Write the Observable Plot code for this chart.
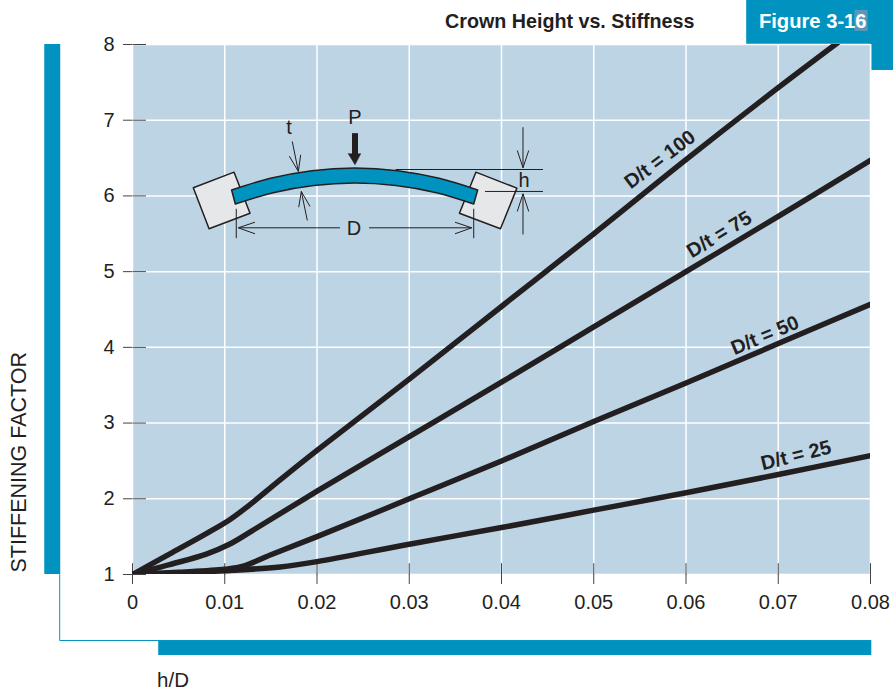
<!DOCTYPE html>
<html><head><meta charset="utf-8">
<script src="https://cdn.jsdelivr.net/npm/d3@7"></script>
<script src="https://cdn.jsdelivr.net/npm/@observablehq/plot@0.6"></script>
<style>html,body{margin:0;padding:0;background:#fff}svg{display:block}</style>
</head><body><div id="chart"></div>
<script>
// Curves: h/D against stiffening factor
const x100 = [0, 0.004, 0.008, 0.0105, 0.0125, 0.016, 0.02, 0.03, 0.04, 0.05, 0.06, 0.07, 0.0775];
const y100 = [1, 1.27, 1.54, 1.72, 1.9, 2.25, 2.64, 3.58, 4.54, 5.5, 6.48, 7.43, 8.12];
const x75 = [0, 0.004, 0.008, 0.0105, 0.013, 0.02, 0.03, 0.04, 0.05, 0.06, 0.07, 0.08];
const y75 = [1, 1.13, 1.27, 1.4, 1.58, 2.1, 2.82, 3.54, 4.27, 5, 5.73, 6.47];
const x50 = [0, 0.005, 0.01, 0.012, 0.015, 0.02, 0.03, 0.04, 0.05, 0.06, 0.07, 0.08];
const y50 = [1, 1.03, 1.07, 1.11, 1.26, 1.5, 2, 2.5, 3.02, 3.53, 4.05, 4.57];
const x25 = [0, 0.01, 0.016, 0.02, 0.03, 0.04, 0.05, 0.06, 0.07, 0.08];
const y25 = [1, 1.05, 1.1, 1.17, 1.4, 1.62, 1.85, 2.08, 2.32, 2.57];

const xTicks = [0, 0.01, 0.02, 0.03, 0.04, 0.05, 0.06, 0.07, 0.08];
const yTicks = [1, 2, 3, 4, 5, 6, 7, 8];

const curveLabels = ["D/t = 100", "D/t = 75", "D/t = 50", "D/t = 25"];
const curveLabelX = [0.05718, 0.0636, 0.06856, 0.07192];
const curveLabelY = [6.481, 5.491, 4.157, 2.572];
const curveLabelAngle = [-37, -31, -23, -14];

// Inset diagram, in the chart's own data units
const beamTopX = [0.0108, 0.015, 0.0195, 0.02412, 0.0288, 0.0333, 0.03747];
const beamTopY = [6.072, 6.226, 6.327, 6.363, 6.327, 6.226, 6.072];
const beamBotX = [0.0112, 0.0153, 0.0197, 0.02412, 0.0286, 0.033, 0.03704];
const beamBotY = [5.887, 6.036, 6.131, 6.164, 6.131, 6.036, 5.887];
const blockLX = [0.00659, 0.01101, 0.01274, 0.0083, 0.00659];
const blockRX = [0.03722, 0.04167, 0.03989, 0.03544, 0.03722];
const blockLY = [6.108, 6.314, 5.772, 5.566, 6.108];
const blockRY = [6.314, 6.103, 5.566, 5.772, 6.314];
const segX1 = [0.02853,0.03821,0.01125,0.03699,0.01147,0.02564,0.04233,0.04295,0.04171,0.04233,0.04295,0.04171,0.01732,0.017,0.01823,0.01895,0.01802,0.01924,0.01328,0.01328,0.03496,0.03496];
const segY1 = [6.349,6.059,5.83,5.83,5.579,5.579,6.908,6.6,6.6,5.491,5.795,5.795,6.719,6.525,6.543,5.676,5.851,5.861,5.653,5.5,5.653,5.5];
const segX2 = [0.0445,0.0445,0.01125,0.03699,0.02249,0.03677,0.04233,0.04233,0.04233,0.04233,0.04233,0.04233,0.01798,0.01798,0.01798,0.0183,0.0183,0.0183,0.01147,0.01147,0.03677,0.03677];
const segY2 = [6.349,6.059,5.442,5.442,5.579,5.579,6.372,6.372,6.372,6.028,6.028,6.028,6.323,6.323,6.323,6.059,6.059,6.059,5.579,5.579,5.579,5.579];
const loadX = [0.02339, 0.02474, 0.02412, 0.02339];
const loadY = [6.557, 6.557, 6.411, 6.557];
const diagramLabels = ["t", "P", "h", "D"];
const diagramLabelX = [0.01697, 0.02412, 0.04244, 0.02401];
const diagramLabelY = [6.904, 7.036, 6.204, 5.57];

// Page furniture, in data units
const bandX1 = [-0.00951, 0.00284, 0.06658, 0.08014];
const bandX2 = [-0.00778, 0.08014, 0.0826, 0.0826];
const bandY1 = [1, -0.07, 8, 7.657];
const bandY2 = [8, 0.128, 8.582, 8];
const ruleX = [-0.00789, -0.00789, 0.00284];
const ruleY = [1, 0.128, 0.128];

const INK = "#231f20", TEAL = "#0093bf", FONT = "Liberation Sans, Arial, sans-serif";
const table = (xs, ys) => xs.map((x, i) => ({x, y: ys[i]}));
const curveMark = (xs, ys) => Plot.line(table(xs, ys), {x: "x", y: "y", stroke: INK, strokeWidth: 5.5, curve: "catmull-rom", clip: true});

const plot = Plot.plot({
  width: 893, height: 690,
  marginLeft: 132, marginRight: 23, marginTop: 44, marginBottom: 116,
  style: {fontFamily: FONT, background: "#fff", overflow: "visible"},
  x: {domain: [0, 0.08]},
  y: {domain: [1, 8]},
  marks: [
    Plot.rect(bandX1.map((d, i) => i), {x1: i => bandX1[i], x2: i => bandX2[i], y1: i => bandY1[i], y2: i => bandY2[i], fill: TEAL}),
    Plot.line(table(ruleX, ruleY), {x: "x", y: "y", stroke: TEAL, strokeWidth: 1}),
    Plot.frame({fill: "#bdd4e5", stroke: "none"}),
    Plot.ruleX(xTicks, {stroke: "#fff", strokeWidth: 1.5}),
    Plot.ruleY(yTicks, {stroke: "#fff", strokeWidth: 1.5}),
    Plot.axisX({ticks: xTicks, tickFormat: d => String(d), tickSize: 10, tickPadding: 10, fontSize: 20, stroke: "#444", fill: INK, label: null}),
    Plot.axisY({ticks: yTicks, tickFormat: d => String(d), tickSize: 9, tickPadding: 9, fontSize: 20, stroke: "#444", fill: INK, label: null}),
    Plot.link(xTicks, {x1: d => d, x2: d => d, y1: 1, y2: 1.15, stroke: "#444", strokeWidth: 1}),
    Plot.link(yTicks, {y1: d => d, y2: d => d, x1: 0, x2: 0.00146, stroke: "#444", strokeWidth: 1}),
    curveMark(x25, y25), curveMark(x50, y50), curveMark(x75, y75), curveMark(x100, y100),
    Plot.text(curveLabels, {x: (d, i) => curveLabelX[i], y: (d, i) => curveLabelY[i], text: d => d, rotate: (d, i) => curveLabelAngle[i], fontSize: 20, fontWeight: "bold", fill: INK}),
    Plot.line(table(blockLX, blockLY), {x: "x", y: "y", fill: "#e6e7e8", stroke: INK, strokeWidth: 1.5}),
    Plot.line(table(blockRX, blockRY), {x: "x", y: "y", fill: "#e6e7e8", stroke: INK, strokeWidth: 1.5}),
    Plot.area(beamTopX, {x1: d => d, y1: (d, i) => beamTopY[i], x2: (d, i) => beamBotX[i], y2: (d, i) => beamBotY[i], curve: "catmull-rom", fill: TEAL, stroke: INK, strokeWidth: 1.5}),
    Plot.link(segX1, {x1: d => d, y1: (d, i) => segY1[i], x2: (d, i) => segX2[i], y2: (d, i) => segY2[i], stroke: INK, strokeWidth: 1}),
    Plot.link([0.02412], {x1: d => d, x2: d => d, y1: 6.829, y2: 6.55, stroke: INK, strokeWidth: 6}),
    Plot.line(table(loadX, loadY), {x: "x", y: "y", fill: INK, stroke: INK, strokeWidth: 0.5}),
    Plot.text(diagramLabels, {x: (d, i) => diagramLabelX[i], y: (d, i) => diagramLabelY[i], text: d => d, fontSize: 20, fill: INK}),
    Plot.text(["STIFFENING FACTOR"], {x: -0.0123, y: 1.026, text: d => d, rotate: -90, textAnchor: "start", fontSize: 21.5, fill: INK}),
    Plot.text(["h/D"], {x: 0.00266, y: -0.4, text: d => d, textAnchor: "start", fontSize: 20.5, fill: INK}),
    Plot.text(["Crown Height vs. Stiffness"], {x: 0.03388, y: 8.304, text: d => d, textAnchor: "start", fontSize: 19.7, fontWeight: "bold", fill: INK}),
    Plot.rect([0], {x1: 0.07832, x2: 0.07973, y1: 8.172, y2: 8.45, fill: "#5b97b6"}),
    Plot.text(["Figure 3-16"], {x: 0.0679, y: 8.304, text: d => d, textAnchor: "start", fontSize: 20.2, fontWeight: "bold", fill: "#fff"})
  ]
});
document.getElementById("chart").appendChild(plot);
</script></body></html>
